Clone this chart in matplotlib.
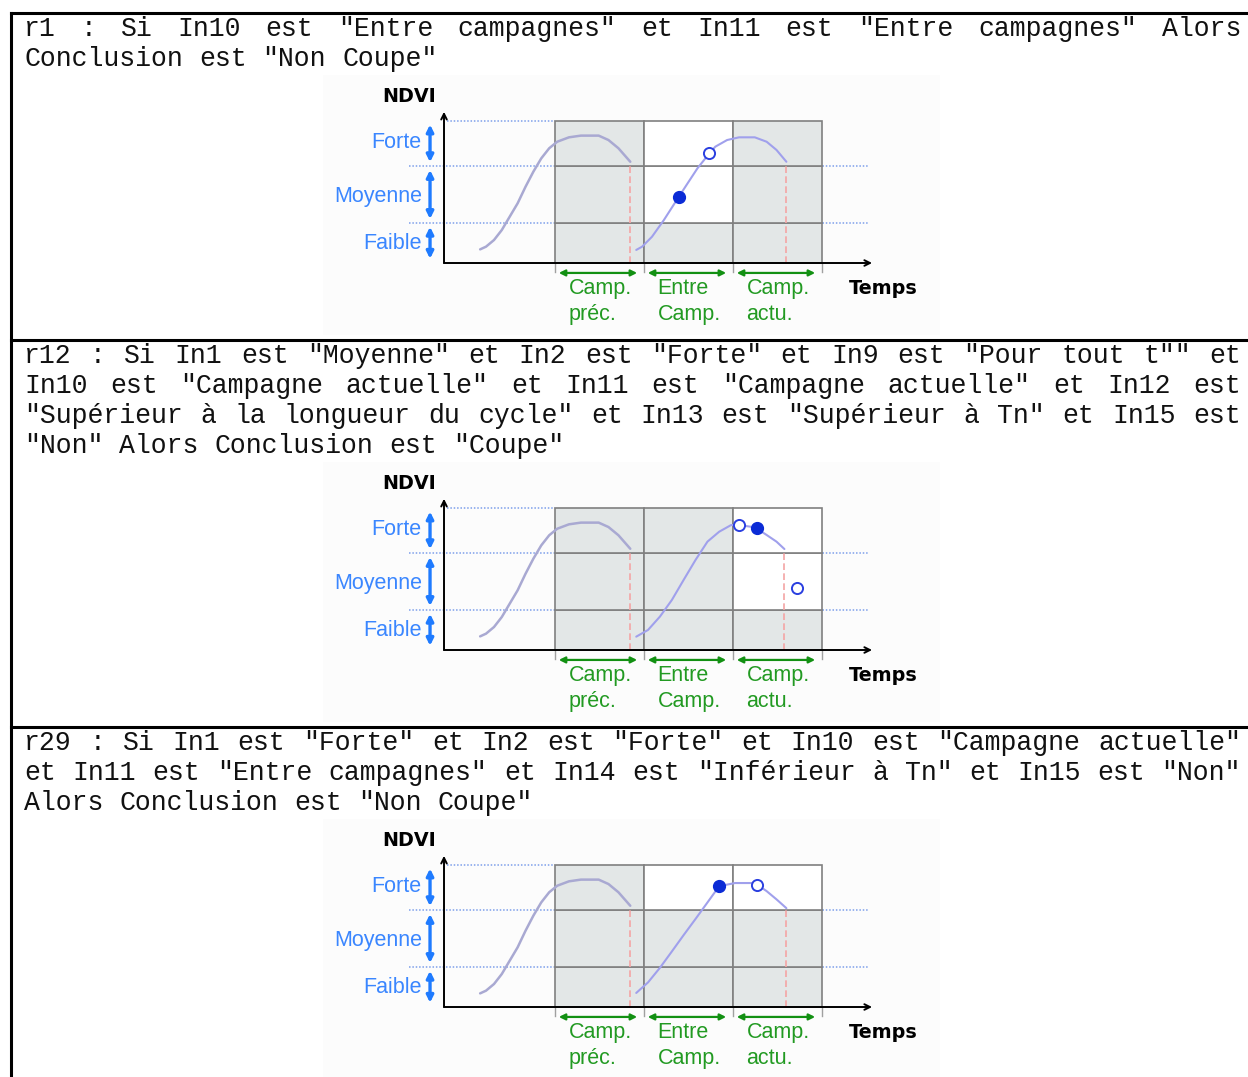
import matplotlib
matplotlib.use("Agg")
import matplotlib.pyplot as plt
from matplotlib.patches import Rectangle

# texte des regles (une liste de lignes par regle)
rule_r1 = ['r1 : Si In10 est "Entre campagnes" et In11 est "Entre campagnes" Alors',
           'Conclusion est "Non Coupe"']
rule_r12 = ['r12 : Si In1 est "Moyenne" et In2 est "Forte" et In9 est "Pour tout t"" et',
            'In10 est "Campagne actuelle" et In11 est "Campagne actuelle" et In12 est',
            '"Supérieur à la longueur du cycle" et In13 est "Supérieur à Tn" et In15 est',
            '"Non" Alors Conclusion est "Coupe"']
rule_r29 = ['r29 : Si In1 est "Forte" et In2 est "Forte" et In10 est "Campagne actuelle"',
            'et In11 est "Entre campagnes" et In14 est "Inférieur à Tn" et In15 est "Non"',
            'Alors Conclusion est "Non Coupe"']
rules = [rule_r1, rule_r12, rule_r29]

# classes NDVI et periodes
ndvi_bounds = [0.0, 0.28, 0.68, 1.0]
class_names = ["Faible", "Moyenne", "Forte"]
class_label_y = [0.14, 0.47, 0.85]
period_edges = [1.25, 2.25, 3.25, 4.25]
period_names = [("Camp.", "préc."), ("Entre", "Camp."), ("Camp.", "actu.")]

# courbe de la campagne precedente (identique pour les 3 regles)
prev_t = [0.406, 0.472, 0.562, 0.649, 0.738, 0.827, 0.916, 1.004, 1.093, 1.182,
          1.272, 1.404, 1.538, 1.738, 1.848, 1.960, 2.093]
prev_v = [0.096, 0.115, 0.162, 0.232, 0.326, 0.420, 0.537, 0.643, 0.737, 0.808,
          0.854, 0.885, 0.897, 0.897, 0.866, 0.808, 0.713]

# courbe de la campagne actuelle, par regle
cur_t_r1 = [2.160, 2.226, 2.337, 2.471, 2.603, 2.737, 2.848, 2.937, 3.048, 3.181,
            3.315, 3.492, 3.625, 3.736, 3.847]
cur_v_r1 = [0.092, 0.115, 0.185, 0.303, 0.432, 0.561, 0.667, 0.737, 0.819, 0.866,
            0.885, 0.885, 0.854, 0.796, 0.713]
cur_t_r12 = [2.160, 2.292, 2.426, 2.560, 2.692, 2.826, 2.960, 3.092, 3.226, 3.315,
             3.492, 3.625, 3.736, 3.825]
cur_v_r12 = [0.094, 0.141, 0.235, 0.352, 0.493, 0.634, 0.763, 0.833, 0.880, 0.880,
             0.864, 0.810, 0.763, 0.711]
cur_t_r29 = [2.160, 2.292, 2.426, 2.560, 2.692, 2.826, 2.960, 3.092, 3.270, 3.492,
             3.625, 3.736, 3.847]
cur_v_r29 = [0.099, 0.173, 0.276, 0.391, 0.506, 0.620, 0.736, 0.851, 0.873, 0.873,
             0.816, 0.758, 0.696]
cur_t = [cur_t_r1, cur_t_r12, cur_t_r29]
cur_v = [cur_v_r1, cur_v_r12, cur_v_r29]

# cases blanches (periode, classe)
white_cells = [[(1, 1), (1, 2)], [(2, 1), (2, 2)], [(1, 2), (2, 2)]]
# points observes
filled_pts = [[(2.635, 0.467)], [(3.517, 0.859)], [(3.090, 0.852)]]
open_pts = [[(2.983, 0.777)], [(3.315, 0.880), (3.966, 0.437)], [(3.517, 0.859)]]

W, H = 1248, 1077
fig = plt.figure(figsize=(W / 100, H / 100), dpi=100)
bg = fig.add_axes([0, 0, 1, 1])
bg.set_xlim(0, W)
bg.set_ylim(H, 0)
bg.axis("off")

mono = "Liberation Mono"
sans = "Liberation Sans"
fs_mono = 19.08
cw = fs_mono * 0.6 * 100 / 72  # largeur d'un caractere en px
x_left, x_right = 24, 1241
sep_y = [13, 340, 727]

# cadre du tableau
bg.plot([11, 11], [sep_y[0], H], color="black", lw=2.2)
for y in sep_y:
    bg.plot([11, W], [y, y], color="black", lw=2.2)


def draw_line(words, y, justify):
    n_chars = sum(len(w) for w in words)
    if justify and len(words) > 1:
        gap = (x_right - x_left - n_chars * cw) / (len(words) - 1)
    else:
        gap = cw
    x = x_left
    for w in words:
        bg.text(x, y, w, fontfamily=mono, fontsize=fs_mono, va="baseline", ha="left",
                color="#111111")
        x += len(w) * cw + gap


def draw_diagram(ax, k):
    ax.set_xlim(-1.3933, 5.5730)
    ax.set_ylim(-0.5070, 1.3239)
    ax.axis("off")
    ax.add_patch(Rectangle((-1.36, -0.507), 6.93, 1.83, facecolor="#fcfcfc",
                           edgecolor="none", zorder=-1))
    dot = dict(color="#7d9fea", lw=1.1, dashes=(1, 1.2), zorder=0)
    ax.plot([0.03, period_edges[0]], [1.0, 1.0], **dot)
    for b in ndvi_bounds[1:3]:
        ax.plot([-0.39, 4.78], [b, b], **dot)
    for i in range(3):
        for j in range(3):
            fc = "white" if (i, j) in white_cells[k] else "#e3e7e7"
            ax.add_patch(Rectangle((period_edges[i], ndvi_bounds[j]),
                                   period_edges[i + 1] - period_edges[i],
                                   ndvi_bounds[j + 1] - ndvi_bounds[j],
                                   facecolor=fc, edgecolor="#808080", lw=1.2, zorder=1))
    for e in period_edges:
        ax.plot([e, e], [-0.06, 0], color="#a0a0a0", lw=1, zorder=1)

    # axes
    arr = dict(arrowstyle="->", lw=1.4, color="black", shrinkA=0, shrinkB=0, mutation_scale=10)
    ax.annotate("", xy=(0, 1.065), xytext=(0, 0), arrowprops=arr)
    ax.annotate("", xy=(4.81, 0), xytext=(0, 0), arrowprops=arr)
    ax.text(-0.39, 1.176, "NDVI", fontfamily="DejaVu Sans", fontweight="bold", fontsize=13.8,
            ha="center", va="center")
    ax.text(4.55, -0.183, "Temps", fontfamily="DejaVu Sans", fontweight="bold", fontsize=13.8,
            ha="left", va="center")

    # classes NDVI
    for j, name in enumerate(class_names):
        lo, hi = ndvi_bounds[j], ndvi_bounds[j + 1]
        ax.annotate("", xy=(-0.157, lo + 0.03), xytext=(-0.157, hi - 0.025),
                    arrowprops=dict(arrowstyle="<|-|>", lw=2.4, color="#1f7bff",
                                    shrinkA=0, shrinkB=0, mutation_scale=10))
        ax.text(-0.25, class_label_y[j], name, fontfamily=sans, fontsize=15.5,
                color="#3a86ff", ha="right", va="center")

    # periodes
    for i, (l1, l2) in enumerate(period_names):
        ax.annotate("", xy=(period_edges[i] + 0.04, -0.07),
                    xytext=(period_edges[i + 1] - 0.08, -0.07),
                    arrowprops=dict(arrowstyle="<|-|>", lw=1.6, color="#129012",
                                    shrinkA=0, shrinkB=0, mutation_scale=9))
        ax.text(period_edges[i] + 0.15, -0.183, l1, fontfamily=sans, fontsize=15.5,
                color="#229a22", ha="left", va="center")
        ax.text(period_edges[i] + 0.15, -0.366, l2, fontfamily=sans, fontsize=15.5,
                color="#229a22", ha="left", va="center")

    # courbes
    ax.plot(prev_t, prev_v, color="#a9a9d2", lw=1.8, zorder=3, solid_capstyle="round")
    ax.plot(cur_t[k], cur_v[k], color="#a0a0ec", lw=1.5, zorder=3, solid_capstyle="round")
    for t in (prev_t[-1], cur_t[k][-1]):
        ax.plot([t, t], [0, ndvi_bounds[2]], color="#f4a4a4", lw=1.2,
                dashes=(4, 2), zorder=2)
    for t, v in filled_pts[k]:
        ax.plot(t, v, "o", ms=8.5, mfc="#0b2bd6", mec="#0b2bd6", zorder=5)
    for t, v in open_pts[k]:
        ax.plot(t, v, "o", ms=8, mfc="white", mec="#2a3fe0", mew=1.4, zorder=5)


for k, lines in enumerate(rules):
    base = sep_y[k] + 23
    for n, line in enumerate(lines):
        draw_line(line.split(" "), base + 30 * n, justify=(n < len(lines) - 1))
    last = base + 30 * (len(lines) - 1)
    off = last - 66
    ax = fig.add_axes([320 / W, 1 - (335 + off) / H, 620 / W, 260 / H])
    ax.patch.set_alpha(0)
    draw_diagram(ax, k)

fig.savefig("out.png", dpi=100)
